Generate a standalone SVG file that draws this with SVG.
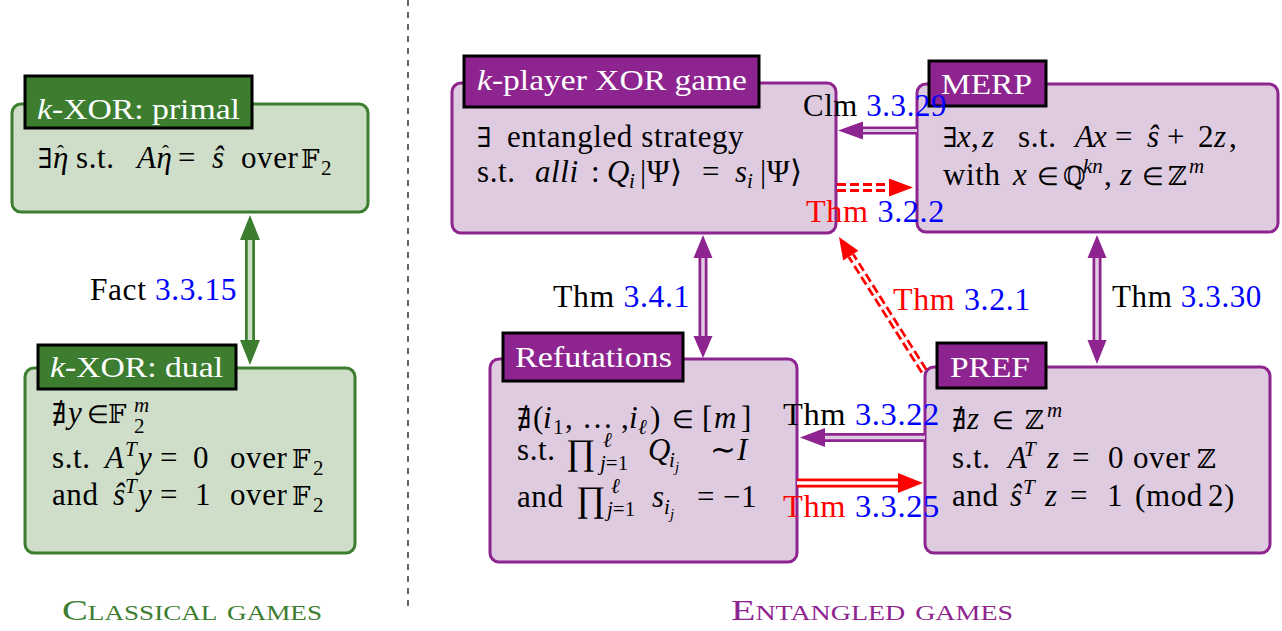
<svg xmlns="http://www.w3.org/2000/svg" width="1282" height="631" viewBox="0 0 1282 631">
<style>
text{font-family:'Liberation Serif','Times New Roman',Times,serif}
.bt{font-family:'Liberation Serif','Times New Roman',Times,serif;font-size:31px;fill:#000;letter-spacing:0.6px}
.it{font-style:italic}
.s{font-size:21px;letter-spacing:0}
.ss{font-size:15px}
.el{font-size:25px}
.bb{font-family:'DejaVu Serif','DejaVu Sans',serif;font-size:26px}
.sym{font-family:'DejaVu Serif','DejaVu Sans',serif;font-size:27px}
.h{font-size:30px;fill:#fff}
.blue{fill:#0000ff}
.red{fill:#ff0000}
.gbox{fill:#cfdec9;stroke:#3c7d2f;stroke-width:3}
.pbox{fill:#dfcbe0;stroke:#8e2490;stroke-width:3}
.ghd{fill:#3c7d2f;stroke:#000;stroke-width:3}
.phd{fill:#8e2490;stroke:#000;stroke-width:3}
.pout{stroke:#8e2490;stroke-width:9;fill:none}
.pin{stroke:#dfcbe0;stroke-width:3.5;fill:none}
.gout{stroke:#3c7d2f;stroke-width:10;fill:none}
.gin{stroke:#cfdec9;stroke-width:4.5;fill:none}
.rout{stroke:#ff0000;stroke-width:9;fill:none}
.rin{stroke:#fff;stroke-width:3.5;fill:none}
.dash{stroke-dasharray:9 4}
.pf{fill:#8e2490}
.gf{fill:#3c7d2f}
.rf{fill:#ff0000}
.cap{font-size:30px;font-variant:small-caps}
</style>

<line x1="408" y1="0" x2="408" y2="606" stroke="#000" stroke-width="1.2" stroke-dasharray="6 6"/>

<g id="primal">
<rect class="gbox" x="12" y="104" width="356" height="108" rx="9"/>
<rect class="ghd" x="25" y="76" width="227" height="52"/>
<text class="h" x="37" y="119" textLength="203" lengthAdjust="spacingAndGlyphs"><tspan class="it">k</tspan>-XOR: primal</text>
<text class="bt" y="168"><tspan class="sym" x="38">∃</tspan><tspan class="it" x="53">η</tspan><tspan class="s" x="57" y="160">ˆ</tspan><tspan x="76" y="168">s.t.</tspan><tspan class="it" x="137">Aη</tspan><tspan class="s" x="162" y="160">ˆ</tspan><tspan x="178" y="168">=</tspan><tspan class="it" x="212">ŝ</tspan><tspan x="241">over</tspan><tspan class="bb" x="301">𝔽</tspan><tspan class="s" x="321" y="175">2</tspan></text>
</g>

<g id="dual">
<rect class="gbox" x="25" y="368" width="330" height="185" rx="9"/>
<rect class="ghd" x="38" y="345" width="198" height="44"/>
<text class="h" x="50" y="377" textLength="173" lengthAdjust="spacingAndGlyphs"><tspan class="it">k</tspan>-XOR: dual</text>
<text class="bt" y="423"><tspan class="sym" x="52">∄</tspan><tspan class="it" x="68">y</tspan><tspan class="el" x="87">∈</tspan><tspan class="bb" x="108">𝔽</tspan><tspan class="s it" x="134" y="412">m</tspan><tspan class="s" x="134" y="433">2</tspan></text>
<text class="bt" y="468"><tspan x="52">s.t.</tspan><tspan class="it" x="105">A</tspan><tspan class="s it" x="125" y="456">T</tspan><tspan class="it" x="138" y="468">y</tspan><tspan x="160">=</tspan><tspan x="193">0</tspan><tspan x="230">over</tspan><tspan class="bb" x="292">𝔽</tspan><tspan class="s" x="313" y="475">2</tspan></text>
<text class="bt" y="505"><tspan x="52">and</tspan><tspan class="it" x="113">ŝ</tspan><tspan class="s it" x="125" y="493">T</tspan><tspan class="it" x="138" y="505">y</tspan><tspan x="160">=</tspan><tspan x="195">1</tspan><tspan x="230">over</tspan><tspan class="bb" x="292">𝔽</tspan><tspan class="s" x="313" y="512">2</tspan></text>
</g>

<g id="xorgame">
<rect class="pbox" x="452" y="83" width="384" height="150" rx="9"/>
<rect class="phd" x="464" y="56" width="295" height="51"/>
<text class="h" x="477" y="90" textLength="270" lengthAdjust="spacingAndGlyphs"><tspan class="it">k</tspan>-player XOR game</text>
<text class="bt" y="147"><tspan class="sym" x="477">∃</tspan><tspan x="507">entangled strategy</tspan></text>
<text class="bt" y="182"><tspan x="477">s.t.</tspan><tspan class="it" x="535">alli</tspan><tspan x="591">:</tspan><tspan class="it" x="607">Q</tspan><tspan class="s it" x="629" y="188">i</tspan><tspan x="640" y="182">|Ψ⟩</tspan><tspan x="702">=</tspan><tspan class="it" x="735">s</tspan><tspan class="s it" x="747" y="188">i</tspan><tspan x="760" y="182">|Ψ⟩</tspan></text>
</g>

<g id="merp">
<rect class="pbox" x="917" y="84" width="361" height="148" rx="9"/>
<rect class="phd" x="929" y="61" width="117" height="45"/>
<text class="h" x="941" y="94" textLength="91" lengthAdjust="spacingAndGlyphs">MERP</text>
<text class="bt" y="147"><tspan class="sym" x="943">∃</tspan><tspan class="it" x="957">x</tspan><tspan x="971">,</tspan><tspan class="it" x="982">z</tspan><tspan x="1018">s.t.</tspan><tspan class="it" x="1075">A</tspan><tspan class="it" x="1093">x</tspan><tspan x="1115">=</tspan><tspan class="it" x="1147">ŝ</tspan><tspan x="1167">+</tspan><tspan x="1198">2</tspan><tspan class="it" x="1214">z</tspan><tspan x="1229">,</tspan></text>
<text class="bt" y="185"><tspan x="943">with</tspan><tspan class="it" x="1013">x</tspan><tspan class="el" x="1037">∈</tspan><tspan class="bb" x="1063">ℚ</tspan><tspan class="s it" x="1083" y="173">kn</tspan><tspan x="1104" y="185">,</tspan><tspan class="it" x="1120">z</tspan><tspan class="el" x="1142">∈</tspan><tspan class="bb" x="1168">ℤ</tspan><tspan class="s it" x="1189" y="173">m</tspan></text>
</g>

<g id="refutations">
<rect class="pbox" x="490" y="359" width="307" height="203" rx="9"/>
<rect class="phd" x="503" y="333" width="180" height="48"/>
<text class="h" x="515" y="367" textLength="157" lengthAdjust="spacingAndGlyphs">Refutations</text>
<text class="bt" y="428"><tspan class="sym" x="517">∄</tspan><tspan x="533">(</tspan><tspan class="it" x="543">i</tspan><tspan class="s" x="553" y="434">1</tspan><tspan x="565" y="428">,</tspan><tspan x="582">…</tspan><tspan x="621">,</tspan><tspan class="it" x="629">i</tspan><tspan class="s it" x="638" y="434">ℓ</tspan><tspan x="650" y="428">)</tspan><tspan class="el" x="672">∈</tspan><tspan x="702">[</tspan><tspan class="it" x="714">m</tspan><tspan x="741">]</tspan></text>
<text class="bt" y="460"><tspan x="517">s.t.</tspan><tspan x="566" y="464" style="font-size:36px">∏</tspan><tspan class="s it" x="603" y="447">ℓ</tspan><tspan class="s" x="600" y="470"><tspan class="it">j</tspan>=1</tspan><tspan class="it" x="648" y="460">Q</tspan><tspan class="s it" x="669" y="467">i</tspan><tspan class="ss it" x="675" y="472">j</tspan><tspan x="710" y="460">∼</tspan><tspan class="it" x="737">I</tspan></text>
<text class="bt" y="507"><tspan x="517">and</tspan><tspan x="576" y="511" style="font-size:36px">∏</tspan><tspan class="s it" x="611" y="493">ℓ</tspan><tspan class="s" x="607" y="516"><tspan class="it">j</tspan>=1</tspan><tspan class="it" x="652" y="507">s</tspan><tspan class="s it" x="664" y="514">i</tspan><tspan class="ss it" x="670" y="519">j</tspan><tspan x="697" y="507">=</tspan><tspan x="723">−1</tspan></text>
</g>

<g id="pref">
<rect class="pbox" x="925" y="367" width="345" height="186" rx="9"/>
<rect class="phd" x="937" y="343" width="109" height="45"/>
<text class="h" x="950" y="377" textLength="80" lengthAdjust="spacingAndGlyphs">PREF</text>
<text class="bt" y="429"><tspan class="sym" x="952">∄</tspan><tspan class="it" x="967">z</tspan><tspan class="el" x="992">∈</tspan><tspan class="bb" x="1025">ℤ</tspan><tspan class="s it" x="1047" y="417">m</tspan></text>
<text class="bt" y="468"><tspan x="952">s.t.</tspan><tspan class="it" x="1008">A</tspan><tspan class="s it" x="1024" y="456">T</tspan><tspan class="it" x="1047" y="468">z</tspan><tspan x="1072">=</tspan><tspan x="1108">0</tspan><tspan x="1133">over</tspan><tspan class="bb" x="1197">ℤ</tspan></text>
<text class="bt" y="506"><tspan x="952">and</tspan><tspan class="it" x="1010">ŝ</tspan><tspan class="s it" x="1023" y="494">T</tspan><tspan class="it" x="1045" y="506">z</tspan><tspan x="1070">=</tspan><tspan x="1107">1</tspan><tspan x="1135">(mod</tspan><tspan x="1208">2)</tspan></text>
</g>

<g id="connectors">
<line class="gout" x1="250" y1="239" x2="250" y2="341"/>
<line class="gin" x1="250" y1="238" x2="250" y2="342"/>
<polygon class="gf" points="250,215 240,240 260,240"/>
<polygon class="gf" points="250,365 240,340 260,340"/>
<text class="bt" x="90" y="300" textLength="147" lengthAdjust="spacingAndGlyphs">Fact <tspan class="blue">3.3.15</tspan></text>

<line class="pout" x1="861" y1="130.5" x2="917" y2="130.5" style="stroke-width:8"/>
<line class="pin" x1="860" y1="130.5" x2="917" y2="130.5" style="stroke-width:3"/>
<polygon class="pf" points="838,130.5 863,121.5 863,139.5"/>
<text class="bt" x="803" y="116" textLength="144" lengthAdjust="spacingAndGlyphs">Clm <tspan class="blue">3.3.29</tspan></text>

<line class="rout dash" x1="837" y1="187.5" x2="891" y2="187.5" style="stroke-width:9"/>
<line class="rin dash" x1="837" y1="187.5" x2="891" y2="187.5" style="stroke-width:3"/>
<polygon class="rf" points="913,187.5 889,178.5 889,196.5"/>
<text class="bt" x="806" y="222" textLength="139" lengthAdjust="spacingAndGlyphs"><tspan class="red">Thm</tspan> <tspan class="blue">3.2.2</tspan></text>

<line class="pout" x1="703" y1="256" x2="703" y2="338"/>
<line class="pin" x1="703" y1="255" x2="703" y2="339"/>
<polygon class="pf" points="703,235 693.5,258 712.5,258"/>
<polygon class="pf" points="703,358 693.5,336 712.5,336"/>
<text class="bt" x="553" y="307" textLength="137" lengthAdjust="spacingAndGlyphs">Thm <tspan class="blue">3.4.1</tspan></text>

<line class="pout" x1="1097" y1="256" x2="1097" y2="342"/>
<line class="pin" x1="1097" y1="255" x2="1097" y2="343"/>
<polygon class="pf" points="1097,235 1087.5,258 1106.5,258"/>
<polygon class="pf" points="1097,364 1087.5,340 1106.5,340"/>
<text class="bt" x="1112" y="307" textLength="150" lengthAdjust="spacingAndGlyphs">Thm <tspan class="blue">3.3.30</tspan></text>

<line class="rout dash" x1="924" y1="371" x2="851" y2="255.6" style="stroke-width:8"/>
<line class="rin dash" x1="924" y1="371" x2="851" y2="255.6" style="stroke-width:2.5"/>
<polygon class="rf" points="839,237 843.2,260.4 858.4,250.8"/>
<text class="bt" x="893" y="310" textLength="138" lengthAdjust="spacingAndGlyphs"><tspan class="red">Thm</tspan> <tspan class="blue">3.2.1</tspan></text>

<line class="pout" x1="823" y1="437.5" x2="925" y2="437.5"/>
<line class="pin" x1="822" y1="437.5" x2="925" y2="437.5"/>
<polygon class="pf" points="800,437.5 825,428 825,447"/>
<text class="bt" x="783" y="425" textLength="157" lengthAdjust="spacingAndGlyphs">Thm <tspan class="blue">3.3.22</tspan></text>

<line class="rout" x1="797" y1="483" x2="900" y2="483"/>
<line class="rin" x1="797" y1="483" x2="901" y2="483"/>
<polygon class="rf" points="923,483 898,473 898,493"/>
<text class="bt" x="783" y="517" textLength="157" lengthAdjust="spacingAndGlyphs"><tspan class="red">Thm</tspan> <tspan class="blue">3.3.25</tspan></text>
</g>

<text class="cap" x="62" y="620" fill="#3c7d2f" textLength="260" lengthAdjust="spacingAndGlyphs">Classical games</text>
<text class="cap" x="731" y="620" fill="#8e2490" textLength="282" lengthAdjust="spacingAndGlyphs">Entangled games</text>
</svg>
